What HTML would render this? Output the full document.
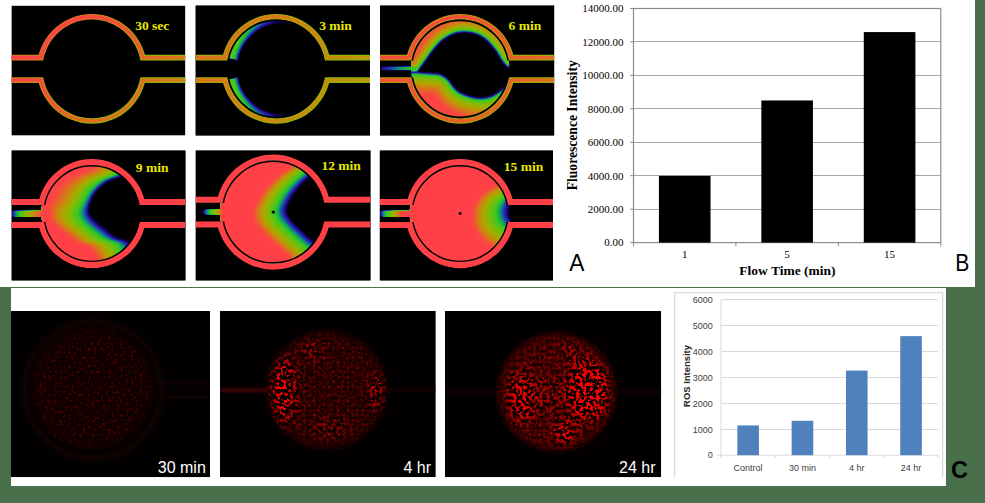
<!DOCTYPE html>
<html><head><meta charset="utf-8"><title>figure</title>
<style>html,body{margin:0;padding:0;width:985px;height:503px;overflow:hidden;background:#496f4b;font-family:"Liberation Sans",sans-serif}</style>
</head><body><svg width="985" height="503" viewBox="0 0 985 503" style="position:absolute;left:0;top:0"><defs><filter id="cmap" color-interpolation-filters="sRGB" x="0" y="0" width="1" height="1">
<feGaussianBlur stdDeviation="0.35"/>
<feComponentTransfer><feFuncR type="table" tableValues="0.000 0.098 0.157 0.039 0.216 0.373 0.529 0.647 0.765 0.882 1.000"/><feFuncG type="table" tableValues="0.000 0.020 0.176 0.627 0.784 0.765 0.725 0.675 0.569 0.424 0.251"/><feFuncB type="table" tableValues="0.000 0.431 0.745 0.412 0.137 0.078 0.020 0.000 0.039 0.137 0.282"/><feFuncA type="linear" slope="0" intercept="1"/></feComponentTransfer></filter><linearGradient id="w1" gradientUnits="userSpaceOnUse" x1="50" y1="20" x2="140" y2="120"><stop offset="0" stop-color="#ff4048"/><stop offset="0.4" stop-color="#f64d3d"/><stop offset="0.75" stop-color="#e16c23"/><stop offset="1" stop-color="#d57b19"/></linearGradient><linearGradient id="f1" gradientUnits="userSpaceOnUse" x1="50" y1="20" x2="140" y2="120"><stop offset="0" stop-color="#e16c23"/><stop offset="0.5" stop-color="#aba702"/><stop offset="1" stop-color="#87b905"/></linearGradient><clipPath id="pc1"><rect x="11.4" y="5.6" width="174.0" height="130.0"/></clipPath><clipPath id="ic1"><path d="M42.50,68.85a49.30,49.30 0 1,0 98.60,0a49.30,49.30 0 1,0 -98.60,0zM6.4,60.39999999999999V77.3H190.4V60.39999999999999z"/></clipPath><mask id="wm1" maskUnits="userSpaceOnUse" x="0" y="0" width="985" height="503"><path d="M36.90,68.85a54.90,54.90 0 1,0 109.80,0a54.90,54.90 0 1,0 -109.80,0zM6.4,54.79999999999999V82.89999999999999H190.4V54.79999999999999z" fill="#fff"/><path d="M42.50,68.85a49.30,49.30 0 1,0 98.60,0a49.30,49.30 0 1,0 -98.60,0zM6.4,60.39999999999999V77.3H190.4V60.39999999999999z" fill="#000"/></mask><mask id="we1" maskUnits="userSpaceOnUse" x="0" y="0" width="985" height="503"><path d="M38.00,68.85a53.80,53.80 0 1,0 107.60,0a53.80,53.80 0 1,0 -107.60,0zM6.4,55.89999999999999V81.8H190.4V55.89999999999999z" fill="#fff"/><path d="M41.40,68.85a50.40,50.40 0 1,0 100.80,0a50.40,50.40 0 1,0 -100.80,0zM6.4,59.29999999999999V78.39999999999999H190.4V59.29999999999999z" fill="#000"/></mask><filter id="bl0_5" color-interpolation-filters="sRGB" x="-50%" y="-50%" width="200%" height="200%"><feGaussianBlur stdDeviation="0.5"/></filter><linearGradient id="w2" gradientUnits="userSpaceOnUse" x1="200" y1="20" x2="360" y2="110"><stop offset="0" stop-color="#e16c23"/><stop offset="0.5" stop-color="#cf8214"/><stop offset="1" stop-color="#bd9708"/></linearGradient><linearGradient id="f2" gradientUnits="userSpaceOnUse" x1="200" y1="20" x2="360" y2="110"><stop offset="0" stop-color="#b49f05"/><stop offset="0.5" stop-color="#9faf01"/><stop offset="1" stop-color="#7fbb08"/></linearGradient><radialGradient id="c2" gradientUnits="userSpaceOnUse" cx="246.10000000000002" cy="68.85" r="60"><stop offset="0" stop-color="#808080"/><stop offset="0.5" stop-color="#737373"/><stop offset="0.8" stop-color="#4c4c4c"/><stop offset="1" stop-color="#1f1f1f"/></radialGradient><polygon id="hpm2" points="327.1,68.8 326.9,73.6 326.1,78.3 324.9,82.9 323.2,87.4 321.1,91.6 318.5,95.6 315.5,99.3 312.2,102.7 308.6,105.7 304.6,108.3 300.4,110.4 296.0,112.1 291.5,113.4 286.8,114.1 282.1,114.3 277.4,114.1 272.7,113.4 268.2,112.1 263.8,110.4 259.6,108.3 255.6,105.7 252.0,102.7 248.7,99.3 245.7,95.6 243.1,91.6 241.0,87.4 239.3,82.9 238.1,78.3 237.3,73.6 237.1,68.9 237.3,64.1 238.1,59.4 239.3,54.8 241.0,50.3 243.1,46.1 245.7,42.1 248.7,38.4 252.0,35.0 255.6,32.0 259.6,29.4 263.8,27.3 268.2,25.6 272.7,24.3 277.4,23.6 282.1,23.3 286.8,23.6 291.5,24.3 296.0,25.6 300.4,27.3 304.6,29.4 308.6,32.0 312.2,35.0 315.5,38.4 318.5,42.1 321.1,46.1 323.2,50.3 324.9,54.8 326.1,59.4 326.9,64.1" stroke-linejoin="round"/><filter id="bl0_6" color-interpolation-filters="sRGB" x="-50%" y="-50%" width="200%" height="200%"><feGaussianBlur stdDeviation="0.6"/></filter><mask id="m2" maskUnits="userSpaceOnUse" x="0" y="0" width="985" height="503"><rect x="0" y="0" width="985" height="503" fill="#fff"/><g filter="url(#bl0_6)"><use href="#hpm2" fill="#f1f1f1" stroke="#f1f1f1" stroke-width="12.00"/><use href="#hpm2" fill="#d5d5d5" stroke="#d5d5d5" stroke-width="10.00"/><use href="#hpm2" fill="#b8b8b8" stroke="#b8b8b8" stroke-width="8.00"/><use href="#hpm2" fill="#989898" stroke="#989898" stroke-width="6.00"/><use href="#hpm2" fill="#767676" stroke="#767676" stroke-width="4.00"/><use href="#hpm2" fill="#4f4f4f" stroke="#4f4f4f" stroke-width="2.00"/><use href="#hpm2" fill="#000"/><ellipse cx="227.10000000000002" cy="68.85" rx="16" ry="10.5" fill="#000"/></g></mask><clipPath id="pc2"><rect x="195.6" y="5.6" width="174.4" height="130.0"/></clipPath><clipPath id="ic2"><path d="M226.80,68.85a49.30,49.30 0 1,0 98.60,0a49.30,49.30 0 1,0 -98.60,0zM190.6,60.39999999999999V77.3H375.0V60.39999999999999z"/></clipPath><mask id="wm2" maskUnits="userSpaceOnUse" x="0" y="0" width="985" height="503"><path d="M221.20,68.85a54.90,54.90 0 1,0 109.80,0a54.90,54.90 0 1,0 -109.80,0zM190.6,54.79999999999999V82.89999999999999H375.0V54.79999999999999z" fill="#fff"/><path d="M226.80,68.85a49.30,49.30 0 1,0 98.60,0a49.30,49.30 0 1,0 -98.60,0zM190.6,60.39999999999999V77.3H375.0V60.39999999999999z" fill="#000"/></mask><mask id="we2" maskUnits="userSpaceOnUse" x="0" y="0" width="985" height="503"><path d="M222.30,68.85a53.80,53.80 0 1,0 107.60,0a53.80,53.80 0 1,0 -107.60,0zM190.6,55.89999999999999V81.8H375.0V55.89999999999999z" fill="#fff"/><path d="M225.70,68.85a50.40,50.40 0 1,0 100.80,0a50.40,50.40 0 1,0 -100.80,0zM190.6,59.29999999999999V78.39999999999999H375.0V59.29999999999999z" fill="#000"/></mask><clipPath id="lc2"><rect x="195.6" y="5.6" width="174.4" height="54.79999999999999"/><rect x="195.6" y="77.3" width="174.4" height="58.3"/></clipPath><linearGradient id="w3" gradientUnits="userSpaceOnUse" x1="400" y1="20" x2="520" y2="120"><stop offset="0" stop-color="#f94941"/><stop offset="0.5" stop-color="#f05635"/><stop offset="1" stop-color="#e16c23"/></linearGradient><linearGradient id="f3" gradientUnits="userSpaceOnUse" x1="400" y1="20" x2="520" y2="120"><stop offset="0" stop-color="#c3910a"/><stop offset="0.5" stop-color="#b49f05"/><stop offset="1" stop-color="#9faf01"/></linearGradient><polygon id="hpm3u" points="417.9,70.6 418.8,69.4 419.9,67.8 421.3,65.8 422.9,63.7 424.4,61.6 425.8,59.7 427.1,57.9 428.4,56.0 429.7,54.1 431.0,52.3 432.4,50.5 433.8,48.7 435.3,46.9 436.8,45.2 438.4,43.5 440.0,41.8 441.8,40.2 443.7,38.8 445.8,37.4 448.0,36.1 450.3,34.9 452.7,33.8 455.1,32.9 457.6,32.3 460.2,31.9 462.9,31.7 465.7,31.8 468.4,32.0 471.1,32.3 473.5,32.8 475.7,33.4 477.8,34.2 479.8,35.1 481.7,36.2 483.6,37.5 485.4,38.8 487.2,40.3 489.0,42.1 490.7,43.9 492.4,45.9 493.9,47.8 495.4,49.7 496.8,51.6 498.0,53.5 499.2,55.5 500.3,57.4 501.3,59.2 502.3,60.7 503.3,62.0 504.3,63.3 505.2,64.3 506.1,65.3 506.8,66.0 507.3,66.6 520.0,70.0 560.0,72.0 560.0,130.0 380.0,130.0 380.0,72.0 417.9,72.0" stroke-linejoin="round"/><filter id="bl0_8" color-interpolation-filters="sRGB" x="-50%" y="-50%" width="200%" height="200%"><feGaussianBlur stdDeviation="0.8"/></filter><mask id="m3u" maskUnits="userSpaceOnUse" x="0" y="0" width="985" height="503"><rect x="0" y="0" width="985" height="503" fill="#fff"/><g filter="url(#bl0_8)"><use href="#hpm3u" fill="#fafafa" stroke="#fafafa" stroke-width="22.00"/><use href="#hpm3u" fill="#f1f1f1" stroke="#f1f1f1" stroke-width="20.17"/><use href="#hpm3u" fill="#e7e7e7" stroke="#e7e7e7" stroke-width="18.33"/><use href="#hpm3u" fill="#dddddd" stroke="#dddddd" stroke-width="16.50"/><use href="#hpm3u" fill="#d2d2d2" stroke="#d2d2d2" stroke-width="14.67"/><use href="#hpm3u" fill="#c6c6c6" stroke="#c6c6c6" stroke-width="12.83"/><use href="#hpm3u" fill="#b9b9b9" stroke="#b9b9b9" stroke-width="11.00"/><use href="#hpm3u" fill="#ababab" stroke="#ababab" stroke-width="9.17"/><use href="#hpm3u" fill="#9b9b9b" stroke="#9b9b9b" stroke-width="7.33"/><use href="#hpm3u" fill="#898989" stroke="#898989" stroke-width="5.50"/><use href="#hpm3u" fill="#737373" stroke="#737373" stroke-width="3.67"/><use href="#hpm3u" fill="#525252" stroke="#525252" stroke-width="1.83"/><use href="#hpm3u" fill="#000"/></g></mask><polygon id="hpm3l" points="417.9,72.6 419.2,72.7 421.1,72.9 423.2,73.0 425.5,73.2 427.8,73.4 429.8,73.6 431.6,73.7 433.3,73.8 435.0,73.9 436.6,74.0 438.2,74.2 439.7,74.6 441.1,75.1 442.5,75.8 443.8,76.5 445.1,77.3 446.4,78.3 447.7,79.5 449.0,80.9 450.3,82.6 451.5,84.4 452.8,86.3 454.2,88.0 455.6,89.5 457.1,90.8 458.6,91.9 460.2,92.9 461.9,93.8 463.7,94.6 465.6,95.4 467.7,96.1 470.0,96.8 472.4,97.4 474.9,97.9 477.3,98.2 479.5,98.4 481.6,98.4 483.7,98.2 485.7,98.0 487.7,97.5 489.6,97.0 491.4,96.4 493.3,95.6 495.2,94.5 497.1,93.3 498.8,92.2 500.2,91.2 501.3,90.5 512.0,80.0 560.0,70.0 560.0,0.0 380.0,0.0 380.0,72.6" stroke-linejoin="round"/><filter id="bl1_0" color-interpolation-filters="sRGB" x="-50%" y="-50%" width="200%" height="200%"><feGaussianBlur stdDeviation="1.0"/></filter><mask id="m3l" maskUnits="userSpaceOnUse" x="0" y="0" width="985" height="503"><rect x="0" y="0" width="985" height="503" fill="#fff"/><g filter="url(#bl1_0)"><use href="#hpm3l" fill="#fbfbfb" stroke="#fbfbfb" stroke-width="40.00"/><use href="#hpm3l" fill="#f3f3f3" stroke="#f3f3f3" stroke-width="37.14"/><use href="#hpm3l" fill="#ebebeb" stroke="#ebebeb" stroke-width="34.29"/><use href="#hpm3l" fill="#e2e2e2" stroke="#e2e2e2" stroke-width="31.43"/><use href="#hpm3l" fill="#d9d9d9" stroke="#d9d9d9" stroke-width="28.57"/><use href="#hpm3l" fill="#cfcfcf" stroke="#cfcfcf" stroke-width="25.71"/><use href="#hpm3l" fill="#c5c5c5" stroke="#c5c5c5" stroke-width="22.86"/><use href="#hpm3l" fill="#bababa" stroke="#bababa" stroke-width="20.00"/><use href="#hpm3l" fill="#aeaeae" stroke="#aeaeae" stroke-width="17.14"/><use href="#hpm3l" fill="#a1a1a1" stroke="#a1a1a1" stroke-width="14.29"/><use href="#hpm3l" fill="#939393" stroke="#939393" stroke-width="11.43"/><use href="#hpm3l" fill="#828282" stroke="#828282" stroke-width="8.57"/><use href="#hpm3l" fill="#6d6d6d" stroke="#6d6d6d" stroke-width="5.71"/><use href="#hpm3l" fill="#4f4f4f" stroke="#4f4f4f" stroke-width="2.86"/><use href="#hpm3l" fill="#000"/></g></mask><clipPath id="cu3"><rect x="370" y="0" width="200" height="72"/></clipPath><clipPath id="cl3"><rect x="370" y="72" width="200" height="100"/></clipPath><radialGradient id="r3" gradientUnits="userSpaceOnUse" cx="430.2" cy="113.85" r="100"><stop offset="0" stop-color="#ffffff"/><stop offset="0.6" stop-color="#f5f5f5"/><stop offset="1" stop-color="#ebebeb"/></radialGradient><linearGradient id="s3" gradientUnits="userSpaceOnUse" x1="381" y1="0" x2="418" y2="0"><stop offset="0" stop-color="#1f1f1f"/><stop offset="0.5" stop-color="#4c4c4c"/><stop offset="1" stop-color="#737373"/></linearGradient><clipPath id="pc3"><rect x="380.0" y="5.6" width="174.20000000000005" height="130.0"/></clipPath><clipPath id="ic3"><path d="M410.90,68.85a49.30,49.30 0 1,0 98.60,0a49.30,49.30 0 1,0 -98.60,0zM375.0,60.39999999999999V77.3H559.2V60.39999999999999z"/></clipPath><mask id="wm3" maskUnits="userSpaceOnUse" x="0" y="0" width="985" height="503"><path d="M405.30,68.85a54.90,54.90 0 1,0 109.80,0a54.90,54.90 0 1,0 -109.80,0zM375.0,54.79999999999999V82.89999999999999H559.2V54.79999999999999z" fill="#fff"/><path d="M410.90,68.85a49.30,49.30 0 1,0 98.60,0a49.30,49.30 0 1,0 -98.60,0zM375.0,60.39999999999999V77.3H559.2V60.39999999999999z" fill="#000"/></mask><mask id="we3" maskUnits="userSpaceOnUse" x="0" y="0" width="985" height="503"><path d="M406.40,68.85a53.80,53.80 0 1,0 107.60,0a53.80,53.80 0 1,0 -107.60,0zM375.0,55.89999999999999V81.8H559.2V55.89999999999999z" fill="#fff"/><path d="M409.80,68.85a50.40,50.40 0 1,0 100.80,0a50.40,50.40 0 1,0 -100.80,0zM375.0,59.29999999999999V78.39999999999999H559.2V59.29999999999999z" fill="#000"/></mask><clipPath id="lc3"><rect x="380.0" y="5.6" width="174.20000000000005" height="54.79999999999999"/><rect x="380.0" y="77.3" width="174.20000000000005" height="58.3"/></clipPath><polygon id="hpm4u" points="121.2,175.6 119.5,176.2 117.2,176.9 114.5,177.8 111.6,178.8 108.8,180.0 106.3,181.3 104.1,182.7 102.0,184.4 100.0,186.1 98.1,187.9 96.4,189.8 94.9,191.6 93.6,193.4 92.4,195.4 91.4,197.3 90.6,199.2 89.8,201.2 89.2,203.0 88.6,204.8 88.2,206.6 87.8,208.4 87.6,210.1 87.7,211.7 88.0,213.3 88.6,214.8 89.5,216.1 90.7,217.4 92.0,218.6 93.4,219.9 94.9,221.3 96.6,222.8 98.4,224.4 100.5,226.0 102.5,227.6 104.5,229.1 106.3,230.5 107.9,231.8 109.4,233.1 110.8,234.2 112.2,235.4 113.7,236.4 115.5,237.4 117.7,238.4 120.2,239.3 122.9,240.1 125.5,240.9 127.7,241.5 129.2,242.0 150.0,275.0 220.0,275.0 220.0,150.0 150.0,150.0" stroke-linejoin="round"/><filter id="bl1_4" color-interpolation-filters="sRGB" x="-50%" y="-50%" width="200%" height="200%"><feGaussianBlur stdDeviation="1.4"/></filter><mask id="m4u" maskUnits="userSpaceOnUse" x="0" y="0" width="985" height="503"><rect x="0" y="0" width="985" height="503" fill="#fff"/><g filter="url(#bl1_4)"><use href="#hpm4u" transform="translate(-44.00,0.00)" fill="#f8f8f8" stroke="#f8f8f8" stroke-width="14.00"/><use href="#hpm4u" transform="translate(-41.25,0.00)" fill="#e9e9e9" stroke="#e9e9e9" stroke-width="13.12"/><use href="#hpm4u" transform="translate(-38.50,0.00)" fill="#dbdbdb" stroke="#dbdbdb" stroke-width="12.25"/><use href="#hpm4u" transform="translate(-35.75,0.00)" fill="#cdcdcd" stroke="#cdcdcd" stroke-width="11.38"/><use href="#hpm4u" transform="translate(-33.00,0.00)" fill="#bebebe" stroke="#bebebe" stroke-width="10.50"/><use href="#hpm4u" transform="translate(-30.25,0.00)" fill="#b0b0b0" stroke="#b0b0b0" stroke-width="9.62"/><use href="#hpm4u" transform="translate(-27.50,0.00)" fill="#a2a2a2" stroke="#a2a2a2" stroke-width="8.75"/><use href="#hpm4u" transform="translate(-24.75,0.00)" fill="#939393" stroke="#939393" stroke-width="7.88"/><use href="#hpm4u" transform="translate(-22.00,0.00)" fill="#858585" stroke="#858585" stroke-width="7.00"/><use href="#hpm4u" transform="translate(-19.25,0.00)" fill="#777777" stroke="#777777" stroke-width="6.12"/><use href="#hpm4u" transform="translate(-16.50,0.00)" fill="#686868" stroke="#686868" stroke-width="5.25"/><use href="#hpm4u" transform="translate(-13.75,0.00)" fill="#5a5a5a" stroke="#5a5a5a" stroke-width="4.38"/><use href="#hpm4u" transform="translate(-11.00,0.00)" fill="#4c4c4c" stroke="#4c4c4c" stroke-width="3.50"/><use href="#hpm4u" transform="translate(-8.25,0.00)" fill="#3d3d3d" stroke="#3d3d3d" stroke-width="2.62"/><use href="#hpm4u" transform="translate(-5.50,0.00)" fill="#2f2f2f" stroke="#2f2f2f" stroke-width="1.75"/><use href="#hpm4u" transform="translate(-2.75,0.00)" fill="#212121" stroke="#212121" stroke-width="0.88"/><use href="#hpm4u" fill="#000"/></g></mask><polygon id="hpm4l" points="121.2,175.6 119.5,176.2 117.2,176.9 114.5,177.8 111.6,178.8 108.8,180.0 106.3,181.3 104.1,182.7 102.0,184.4 100.0,186.1 98.1,187.9 96.4,189.8 94.9,191.6 93.6,193.4 92.4,195.4 91.4,197.3 90.6,199.2 89.8,201.2 89.2,203.0 88.6,204.8 88.2,206.6 87.8,208.4 87.6,210.1 87.7,211.7 88.0,213.3 88.6,214.8 89.5,216.1 90.7,217.4 92.0,218.6 93.4,219.9 94.9,221.3 96.6,222.8 98.4,224.4 100.5,226.0 102.5,227.6 104.5,229.1 106.3,230.5 107.9,231.8 109.4,233.1 110.8,234.2 112.2,235.4 113.7,236.4 115.5,237.4 117.7,238.4 120.2,239.3 122.9,240.1 125.5,240.9 127.7,241.5 129.2,242.0 150.0,275.0 220.0,275.0 220.0,150.0 150.0,150.0" stroke-linejoin="round"/><mask id="m4l" maskUnits="userSpaceOnUse" x="0" y="0" width="985" height="503"><rect x="0" y="0" width="985" height="503" fill="#fff"/><g filter="url(#bl1_4)"><use href="#hpm4l" transform="translate(-36.00,0.00)" fill="#f7f7f7" stroke="#f7f7f7" stroke-width="10.00"/><use href="#hpm4l" transform="translate(-33.43,0.00)" fill="#e6e6e6" stroke="#e6e6e6" stroke-width="9.29"/><use href="#hpm4l" transform="translate(-30.86,0.00)" fill="#d6d6d6" stroke="#d6d6d6" stroke-width="8.57"/><use href="#hpm4l" transform="translate(-28.29,0.00)" fill="#c6c6c6" stroke="#c6c6c6" stroke-width="7.86"/><use href="#hpm4l" transform="translate(-25.71,0.00)" fill="#b5b5b5" stroke="#b5b5b5" stroke-width="7.14"/><use href="#hpm4l" transform="translate(-23.14,0.00)" fill="#a5a5a5" stroke="#a5a5a5" stroke-width="6.43"/><use href="#hpm4l" transform="translate(-20.57,0.00)" fill="#949494" stroke="#949494" stroke-width="5.71"/><use href="#hpm4l" transform="translate(-18.00,0.00)" fill="#848484" stroke="#848484" stroke-width="5.00"/><use href="#hpm4l" transform="translate(-15.43,0.00)" fill="#747474" stroke="#747474" stroke-width="4.29"/><use href="#hpm4l" transform="translate(-12.86,0.00)" fill="#636363" stroke="#636363" stroke-width="3.57"/><use href="#hpm4l" transform="translate(-10.29,0.00)" fill="#535353" stroke="#535353" stroke-width="2.86"/><use href="#hpm4l" transform="translate(-7.71,0.00)" fill="#424242" stroke="#424242" stroke-width="2.14"/><use href="#hpm4l" transform="translate(-5.14,0.00)" fill="#323232" stroke="#323232" stroke-width="1.43"/><use href="#hpm4l" transform="translate(-2.57,0.00)" fill="#222222" stroke="#222222" stroke-width="0.71"/><use href="#hpm4l" fill="#000"/></g></mask><clipPath id="cu4"><rect x="0" y="140" width="200" height="73.6"/></clipPath><clipPath id="cl4"><rect x="0" y="213.6" width="200" height="100"/></clipPath><linearGradient id="gv4" gradientUnits="userSpaceOnUse" x1="0" y1="199.6" x2="0" y2="223.6"><stop offset="0" stop-color="#fff"/><stop offset="1" stop-color="#000"/></linearGradient><mask id="mg4" maskUnits="userSpaceOnUse" x="0" y="0" width="985" height="503"><rect width="985" height="503" fill="url(#gv4)"/></mask><linearGradient id="s4" gradientUnits="userSpaceOnUse" x1="11.5" y1="0" x2="52" y2="0"><stop offset="0" stop-color="#1f1f1f"/><stop offset="0.12" stop-color="#4c4c4c"/><stop offset="0.28" stop-color="#808080"/><stop offset="0.45" stop-color="#b2b2b2"/><stop offset="0.65" stop-color="#ebebeb"/><stop offset="0.8" stop-color="#ffffff"/></linearGradient><clipPath id="pc4"><rect x="11.6" y="150.4" width="173.9" height="129.99999999999997"/></clipPath><clipPath id="ic4"><path d="M43.30,213.60a48.50,48.50 0 1,0 97.00,0a48.50,48.50 0 1,0 -97.00,0zM6.6,205.1V222.1H190.5V205.1z"/></clipPath><mask id="wm4" maskUnits="userSpaceOnUse" x="0" y="0" width="985" height="503"><path d="M37.30,213.60a54.50,54.50 0 1,0 109.00,0a54.50,54.50 0 1,0 -109.00,0zM6.6,199.1V228.1H190.5V199.1z" fill="#fff"/><path d="M43.30,213.60a48.50,48.50 0 1,0 97.00,0a48.50,48.50 0 1,0 -97.00,0zM6.6,205.1V222.1H190.5V205.1z" fill="#000"/></mask><clipPath id="lc4"><rect x="11.6" y="150.4" width="173.9" height="54.69999999999999"/><rect x="11.6" y="222.1" width="173.9" height="58.29999999999998"/></clipPath><polygon id="hpm5" points="309.0,176.7 307.1,178.5 304.3,181.1 301.3,184.1 298.6,187.0 296.4,189.8 294.2,192.6 292.3,195.5 290.6,198.5 289.0,201.6 287.4,204.8 286.3,208.0 286.0,211.0 286.6,213.7 287.9,216.3 289.7,218.8 291.8,221.4 294.3,224.2 297.1,227.1 300.2,230.0 303.2,232.8 306.3,235.7 309.7,238.7 312.6,241.3 314.7,243.1 360.0,285.0 400.0,285.0 400.0,140.0 360.0,140.0" stroke-linejoin="round"/><filter id="bl1_2" color-interpolation-filters="sRGB" x="-50%" y="-50%" width="200%" height="200%"><feGaussianBlur stdDeviation="1.2"/></filter><mask id="m5" maskUnits="userSpaceOnUse" x="0" y="0" width="985" height="503"><rect x="0" y="0" width="985" height="503" fill="#fff"/><g filter="url(#bl1_2)"><use href="#hpm5" transform="translate(-27.00,4.00)" fill="#f7f7f7" stroke="#f7f7f7" stroke-width="12.00"/><use href="#hpm5" transform="translate(-25.07,3.71)" fill="#e6e6e6" stroke="#e6e6e6" stroke-width="11.14"/><use href="#hpm5" transform="translate(-23.14,3.43)" fill="#d6d6d6" stroke="#d6d6d6" stroke-width="10.29"/><use href="#hpm5" transform="translate(-21.21,3.14)" fill="#c6c6c6" stroke="#c6c6c6" stroke-width="9.43"/><use href="#hpm5" transform="translate(-19.29,2.86)" fill="#b5b5b5" stroke="#b5b5b5" stroke-width="8.57"/><use href="#hpm5" transform="translate(-17.36,2.57)" fill="#a5a5a5" stroke="#a5a5a5" stroke-width="7.71"/><use href="#hpm5" transform="translate(-15.43,2.29)" fill="#949494" stroke="#949494" stroke-width="6.86"/><use href="#hpm5" transform="translate(-13.50,2.00)" fill="#848484" stroke="#848484" stroke-width="6.00"/><use href="#hpm5" transform="translate(-11.57,1.71)" fill="#747474" stroke="#747474" stroke-width="5.14"/><use href="#hpm5" transform="translate(-9.64,1.43)" fill="#636363" stroke="#636363" stroke-width="4.29"/><use href="#hpm5" transform="translate(-7.71,1.14)" fill="#535353" stroke="#535353" stroke-width="3.43"/><use href="#hpm5" transform="translate(-5.79,0.86)" fill="#424242" stroke="#424242" stroke-width="2.57"/><use href="#hpm5" transform="translate(-3.86,0.57)" fill="#323232" stroke="#323232" stroke-width="1.71"/><use href="#hpm5" transform="translate(-1.93,0.29)" fill="#222222" stroke="#222222" stroke-width="0.86"/><use href="#hpm5" fill="#000"/></g></mask><linearGradient id="s5" gradientUnits="userSpaceOnUse" x1="203" y1="0" x2="224" y2="0"><stop offset="0" stop-color="#1f1f1f"/><stop offset="0.2" stop-color="#4c4c4c"/><stop offset="0.45" stop-color="#808080"/><stop offset="0.65" stop-color="#b2b2b2"/><stop offset="0.85" stop-color="#ebebeb"/><stop offset="1" stop-color="#ffffff"/></linearGradient><clipPath id="pc5"><rect x="195.7" y="150.4" width="174.8" height="129.99999999999997"/></clipPath><clipPath id="ic5"><path d="M221.80,212.10a51.50,51.50 0 1,0 103.00,0a51.50,51.50 0 1,0 -103.00,0zM190.7,202.79999999999998V221.4H375.5V202.79999999999998z"/></clipPath><mask id="wm5" maskUnits="userSpaceOnUse" x="0" y="0" width="985" height="503"><path d="M215.80,212.10a57.50,57.50 0 1,0 115.00,0a57.50,57.50 0 1,0 -115.00,0zM190.7,196.79999999999998V227.4H375.5V196.79999999999998z" fill="#fff"/><path d="M221.80,212.10a51.50,51.50 0 1,0 103.00,0a51.50,51.50 0 1,0 -103.00,0zM190.7,202.79999999999998V221.4H375.5V202.79999999999998z" fill="#000"/></mask><clipPath id="lc5"><rect x="195.7" y="150.4" width="174.8" height="52.39999999999998"/><rect x="195.7" y="221.4" width="174.8" height="58.999999999999986"/></clipPath><filter id="bl1_8" color-interpolation-filters="sRGB" x="-50%" y="-50%" width="200%" height="200%"><feGaussianBlur stdDeviation="1.8"/></filter><mask id="m6" maskUnits="userSpaceOnUse" x="0" y="0" width="985" height="503"><rect width="985" height="503" fill="#fff"/><g filter="url(#bl1_8)"><ellipse cx="512" cy="217.0" rx="40.0" ry="34.0" fill="#f7f7f7"/><ellipse cx="512" cy="216.6" rx="37.4" ry="32.2" fill="#e6e6e6"/><ellipse cx="512" cy="216.1" rx="34.9" ry="30.4" fill="#d6d6d6"/><ellipse cx="512" cy="215.7" rx="32.3" ry="28.6" fill="#c6c6c6"/><ellipse cx="512" cy="215.3" rx="29.7" ry="26.9" fill="#b5b5b5"/><ellipse cx="512" cy="214.9" rx="27.1" ry="25.1" fill="#a5a5a5"/><ellipse cx="512" cy="214.4" rx="24.6" ry="23.3" fill="#949494"/><ellipse cx="512" cy="214.0" rx="22.0" ry="21.5" fill="#848484"/><ellipse cx="512" cy="213.6" rx="19.4" ry="19.7" fill="#747474"/><ellipse cx="512" cy="213.1" rx="16.9" ry="17.9" fill="#636363"/><ellipse cx="512" cy="212.7" rx="14.3" ry="16.1" fill="#535353"/><ellipse cx="512" cy="212.3" rx="11.7" ry="14.4" fill="#424242"/><ellipse cx="512" cy="211.9" rx="9.1" ry="12.6" fill="#323232"/><ellipse cx="512" cy="211.4" rx="6.6" ry="10.8" fill="#222222"/><ellipse cx="512" cy="211" rx="4" ry="10" fill="#000"/></g></mask><linearGradient id="s6" gradientUnits="userSpaceOnUse" x1="380.0" y1="0" x2="412" y2="0"><stop offset="0" stop-color="#1f1f1f"/><stop offset="0.12" stop-color="#4c4c4c"/><stop offset="0.3" stop-color="#808080"/><stop offset="0.45" stop-color="#b2b2b2"/><stop offset="0.6" stop-color="#ebebeb"/><stop offset="0.7" stop-color="#ffffff"/></linearGradient><clipPath id="pc6"><rect x="379.8" y="150.4" width="173.2" height="129.99999999999997"/></clipPath><clipPath id="ic6"><path d="M411.60,213.60a48.50,48.50 0 1,0 97.00,0a48.50,48.50 0 1,0 -97.00,0zM374.8,205.1V222.1H558.0V205.1z"/></clipPath><mask id="wm6" maskUnits="userSpaceOnUse" x="0" y="0" width="985" height="503"><path d="M405.60,213.60a54.50,54.50 0 1,0 109.00,0a54.50,54.50 0 1,0 -109.00,0zM374.8,199.1V228.1H558.0V199.1z" fill="#fff"/><path d="M411.60,213.60a48.50,48.50 0 1,0 97.00,0a48.50,48.50 0 1,0 -97.00,0zM374.8,205.1V222.1H558.0V205.1z" fill="#000"/></mask><clipPath id="lc6"><rect x="379.8" y="150.4" width="173.2" height="54.69999999999999"/><rect x="379.8" y="222.1" width="173.2" height="58.29999999999998"/></clipPath><pattern id="grid" width="4.8" height="4.8" patternUnits="userSpaceOnUse"><rect x="0" y="0" width="4.8" height="4.8" fill="#200000"/><rect x="1.2" y="1.2" width="2.4" height="2.4" fill="#d01010"/></pattern><filter id="bl2" color-interpolation-filters="sRGB" x="-50%" y="-50%" width="200%" height="200%"><feGaussianBlur stdDeviation="2"/></filter><filter id="bl1" color-interpolation-filters="sRGB" x="-50%" y="-50%" width="200%" height="200%"><feGaussianBlur stdDeviation="1"/></filter><filter id="bl6" color-interpolation-filters="sRGB" x="-50%" y="-50%" width="200%" height="200%"><feGaussianBlur stdDeviation="6"/></filter><clipPath id="mc1"><rect x="11" y="311" width="199" height="166.2"/></clipPath><filter id="nz1" x="11" y="311" width="199" height="166.2" filterUnits="userSpaceOnUse" color-interpolation-filters="sRGB">
<feTurbulence type="fractalNoise" baseFrequency="0.35" numOctaves="2" seed="3" result="n"/>
<feColorMatrix in="n" type="matrix" values="7 0 0 0 -4.0  0 0 0 0 0  0 0 0 0 0  0 0 0 0 1"/>
<feGaussianBlur stdDeviation="0.5"/>
</filter><filter id="gz1" x="11" y="311" width="199" height="166.2" filterUnits="userSpaceOnUse" color-interpolation-filters="sRGB">
<feTurbulence type="fractalNoise" baseFrequency="0.45" numOctaves="1" seed="8" result="n"/>
<feColorMatrix in="n" type="matrix" values="3 0 0 0 -1.1  3 0 0 0 -1.1  3 0 0 0 -1.1  0 0 0 0 1"/>
</filter><radialGradient id="dg1" gradientUnits="userSpaceOnUse" cx="92.5" cy="389" r="66"><stop offset="0.75" stop-color="#fff"/><stop offset="1" stop-color="#000"/></radialGradient><mask id="dm1" maskUnits="userSpaceOnUse" x="0" y="0" width="985" height="503"><rect x="11" y="311" width="199" height="166.2" fill="url(#dg1)"/></mask><mask id="cm1" maskUnits="userSpaceOnUse" x="0" y="0" width="985" height="503"><rect width="985" height="503" fill="#3a3a3a"/></mask><mask id="gm1" maskUnits="userSpaceOnUse" x="0" y="0" width="985" height="503"><g mask="url(#gf1)"><rect x="11" y="311" width="199" height="166.2" filter="url(#gz1)"/></g></mask><mask id="gf1" maskUnits="userSpaceOnUse" x="0" y="0" width="985" height="503"><rect width="985" height="503" fill="#2c2c2c"/></mask><linearGradient id="g2" gradientUnits="userSpaceOnUse" x1="266" y1="0" x2="388" y2="0"><stop offset="0" stop-color="#fff"/><stop offset="0.12" stop-color="#fff"/><stop offset="0.3" stop-color="#404040"/><stop offset="0.7" stop-color="#404040"/><stop offset="0.9" stop-color="#eee"/><stop offset="1" stop-color="#fff"/></linearGradient><clipPath id="mc2"><rect x="220" y="311" width="215.8" height="166.2"/></clipPath><filter id="nz2" x="220" y="311" width="215.8" height="166.2" filterUnits="userSpaceOnUse" color-interpolation-filters="sRGB">
<feTurbulence type="fractalNoise" baseFrequency="0.3" numOctaves="2" seed="11" result="n"/>
<feColorMatrix in="n" type="matrix" values="7 0 0 0 -3.3  0 0 0 0 0  0 0 0 0 0  0 0 0 0 1"/>
<feGaussianBlur stdDeviation="0.6"/>
</filter><filter id="gz2" x="220" y="311" width="215.8" height="166.2" filterUnits="userSpaceOnUse" color-interpolation-filters="sRGB">
<feTurbulence type="fractalNoise" baseFrequency="0.45" numOctaves="1" seed="16" result="n"/>
<feColorMatrix in="n" type="matrix" values="3 0 0 0 -1.1  3 0 0 0 -1.1  3 0 0 0 -1.1  0 0 0 0 1"/>
</filter><radialGradient id="dg2" gradientUnits="userSpaceOnUse" cx="326.6" cy="390" r="64"><stop offset="0.75" stop-color="#fff"/><stop offset="1" stop-color="#000"/></radialGradient><mask id="dm2" maskUnits="userSpaceOnUse" x="0" y="0" width="985" height="503"><rect x="220" y="311" width="215.8" height="166.2" fill="url(#dg2)"/></mask><mask id="cm2" maskUnits="userSpaceOnUse" x="0" y="0" width="985" height="503"><rect width="985" height="503" fill="#2c2c2c"/><g filter="url(#bl6)"><ellipse cx="281" cy="392" rx="15" ry="40" fill="#fff"/><ellipse cx="312" cy="350" rx="12" ry="10" fill="#aaa"/><ellipse cx="381" cy="392" rx="9" ry="20" fill="#fff"/><ellipse cx="330" cy="428" rx="20" ry="10" fill="#777"/></g></mask><mask id="gm2" maskUnits="userSpaceOnUse" x="0" y="0" width="985" height="503"><g mask="url(#gf2)"><rect x="220" y="311" width="215.8" height="166.2" filter="url(#gz2)"/></g></mask><mask id="gf2" maskUnits="userSpaceOnUse" x="0" y="0" width="985" height="503"><rect width="985" height="503" fill="#808080"/></mask><radialGradient id="g3" cx="585" cy="388" r="80" gradientUnits="userSpaceOnUse"><stop offset="0" stop-color="#fff"/><stop offset="0.5" stop-color="#ccc"/><stop offset="1" stop-color="#444"/></radialGradient><clipPath id="mc3"><rect x="445" y="311" width="216.20000000000005" height="166.2"/></clipPath><filter id="nz3" x="445" y="311" width="216.20000000000005" height="166.2" filterUnits="userSpaceOnUse" color-interpolation-filters="sRGB">
<feTurbulence type="fractalNoise" baseFrequency="0.3" numOctaves="2" seed="23" result="n"/>
<feColorMatrix in="n" type="matrix" values="7 0 0 0 -3.1  0 0 0 0 0  0 0 0 0 0  0 0 0 0 1"/>
<feGaussianBlur stdDeviation="0.6"/>
</filter><filter id="gz3" x="445" y="311" width="216.20000000000005" height="166.2" filterUnits="userSpaceOnUse" color-interpolation-filters="sRGB">
<feTurbulence type="fractalNoise" baseFrequency="0.45" numOctaves="1" seed="28" result="n"/>
<feColorMatrix in="n" type="matrix" values="3 0 0 0 -1.1  3 0 0 0 -1.1  3 0 0 0 -1.1  0 0 0 0 1"/>
</filter><radialGradient id="dg3" gradientUnits="userSpaceOnUse" cx="556.7" cy="392" r="63.8"><stop offset="0.75" stop-color="#fff"/><stop offset="1" stop-color="#000"/></radialGradient><mask id="dm3" maskUnits="userSpaceOnUse" x="0" y="0" width="985" height="503"><rect x="445" y="311" width="216.20000000000005" height="166.2" fill="url(#dg3)"/></mask><mask id="cm3" maskUnits="userSpaceOnUse" x="0" y="0" width="985" height="503"><rect width="985" height="503" fill="#404040"/><g filter="url(#bl6)"><ellipse cx="588" cy="390" rx="22" ry="32" fill="#fff"/><ellipse cx="522" cy="398" rx="14" ry="26" fill="#eee"/><ellipse cx="565" cy="432" rx="12" ry="14" fill="#ddd"/><ellipse cx="572" cy="352" rx="12" ry="10" fill="#999"/><ellipse cx="550" cy="395" rx="12" ry="20" fill="#888"/></g></mask><mask id="gm3" maskUnits="userSpaceOnUse" x="0" y="0" width="985" height="503"><g mask="url(#gf3)"><rect x="445" y="311" width="216.20000000000005" height="166.2" filter="url(#gz3)"/></g></mask><mask id="gf3" maskUnits="userSpaceOnUse" x="0" y="0" width="985" height="503"><rect width="985" height="503" fill="#808080"/></mask></defs><rect width="985" height="503" fill="#496f4b"/><rect x="0" y="0" width="975" height="287" fill="#fff"/><rect x="11" y="288" width="935" height="198" fill="#fff"/><g clip-path="url(#pc1)"><rect x="11.4" y="5.6" width="174.0" height="130.0" fill="#000"/><rect x="11.4" y="5.6" width="174.0" height="130.0" fill="url(#f1)" mask="url(#wm1)"/><g filter="url(#bl0_5)"><rect x="11.4" y="5.6" width="174.0" height="130.0" fill="url(#w1)" mask="url(#we1)"/></g></g><text x="135.2" y="29.7" font-family="Liberation Serif" font-weight="bold" font-size="13.5" fill="#e8e800">30 sec</text><g clip-path="url(#pc2)"><rect x="195.6" y="5.6" width="174.4" height="130.0" fill="#000"/><g filter="url(#cmap)"><rect x="195.6" y="5.6" width="174.4" height="130.0" fill="#000"/><g clip-path="url(#ic2)"><g mask="url(#m2)"><circle cx="276.1" cy="68.85" r="49.3" fill="url(#c2)"/></g></g></g><rect x="195.6" y="5.6" width="174.4" height="130.0" fill="url(#f2)" mask="url(#wm2)"/><g filter="url(#bl0_5)"><rect x="195.6" y="5.6" width="174.4" height="130.0" fill="url(#w2)" mask="url(#we2)"/></g><circle clip-path="url(#lc2)" cx="276.1" cy="68.85" r="48.5" fill="none" stroke="#000" stroke-width="1.6"/></g><text x="319.2" y="29.7" font-family="Liberation Serif" font-weight="bold" font-size="13.5" fill="#e8e800">3 min</text><g clip-path="url(#pc3)"><rect x="380.0" y="5.6" width="174.20000000000005" height="130.0" fill="#000"/><g filter="url(#cmap)"><rect x="380.0" y="5.6" width="174.20000000000005" height="130.0" fill="#000"/><g clip-path="url(#ic3)"><g clip-path="url(#cu3)"><g mask="url(#m3u)"><circle cx="460.2" cy="68.85" r="49.3" fill="url(#r3)"/></g></g><g clip-path="url(#cl3)"><g mask="url(#m3l)"><circle cx="460.2" cy="68.85" r="49.3" fill="url(#r3)"/></g></g><path d="M382.9,66.39999999999999H418V70.2H382.9a1.9,1.9 0 0,1 0,-3.8z" fill="url(#s3)"/></g></g><rect x="380.0" y="5.6" width="174.20000000000005" height="130.0" fill="url(#f3)" mask="url(#wm3)"/><g filter="url(#bl0_5)"><rect x="380.0" y="5.6" width="174.20000000000005" height="130.0" fill="url(#w3)" mask="url(#we3)"/></g><circle clip-path="url(#lc3)" cx="460.2" cy="68.85" r="48.5" fill="none" stroke="#000" stroke-width="1.6"/></g><text x="508.6" y="29.7" font-family="Liberation Serif" font-weight="bold" font-size="13.5" fill="#e8e800">6 min</text><g clip-path="url(#pc4)"><rect x="11.6" y="150.4" width="173.9" height="129.99999999999997" fill="#000"/><g filter="url(#cmap)"><rect x="11.6" y="150.4" width="173.9" height="129.99999999999997" fill="#000"/><g clip-path="url(#ic4)"><g mask="url(#m4l)"><circle cx="91.8" cy="213.6" r="50.5" fill="#fff"/></g><g mask="url(#mg4)"><g mask="url(#m4u)"><circle cx="91.8" cy="213.6" r="50.5" fill="#fff"/></g></g><path d="M14.7,210.60000000000002H52V217.0H14.7a3.2,3.2 0 0,1 0,-6.4z" fill="url(#s4)"/></g></g><rect x="11.6" y="150.4" width="173.9" height="129.99999999999997" fill="#ff4046" mask="url(#wm4)"/><circle clip-path="url(#lc4)" cx="91.8" cy="213.6" r="47.8" fill="none" stroke="#000" stroke-width="1.4"/></g><text x="135.8" y="172.2" font-family="Liberation Serif" font-weight="bold" font-size="13.5" fill="#e8e800">9 min</text><g clip-path="url(#pc5)"><rect x="195.7" y="150.4" width="174.8" height="129.99999999999997" fill="#000"/><g filter="url(#cmap)"><rect x="195.7" y="150.4" width="174.8" height="129.99999999999997" fill="#000"/><g clip-path="url(#ic5)"><g mask="url(#m5)"><circle cx="273.3" cy="212.1" r="53.5" fill="#fff"/></g><path d="M205.8,209.2H224V214.8H205.8a2.8,2.8 0 0,1 0,-5.6z" fill="url(#s5)"/></g></g><rect x="195.7" y="150.4" width="174.8" height="129.99999999999997" fill="#ff4046" mask="url(#wm5)"/><circle clip-path="url(#lc5)" cx="273.3" cy="212.1" r="50.75" fill="none" stroke="#000" stroke-width="1.5"/><circle cx="273.3" cy="212.1" r="1.7" fill="#000"/></g><text x="321.4" y="169.8" font-family="Liberation Serif" font-weight="bold" font-size="13.5" fill="#e8e800">12 min</text><g clip-path="url(#pc6)"><rect x="379.8" y="150.4" width="173.2" height="129.99999999999997" fill="#000"/><g filter="url(#cmap)"><rect x="379.8" y="150.4" width="173.2" height="129.99999999999997" fill="#000"/><g clip-path="url(#ic6)"><g mask="url(#m6)"><circle cx="460.1" cy="213.6" r="50.5" fill="#fff"/></g><path d="M383.2,210.60000000000002H412V217.0H383.2a3.2,3.2 0 0,1 0,-6.4z" fill="url(#s6)"/></g></g><rect x="379.8" y="150.4" width="173.2" height="129.99999999999997" fill="#ff4046" mask="url(#wm6)"/><circle clip-path="url(#lc6)" cx="460.1" cy="213.6" r="47.8" fill="none" stroke="#000" stroke-width="1.4"/><circle cx="460.1" cy="213.6" r="1.5" fill="#000"/></g><text x="503.8" y="170.6" font-family="Liberation Serif" font-weight="bold" font-size="13.5" fill="#e8e800">15 min</text><g shape-rendering="crispEdges"><line x1="633.5" y1="41.9" x2="940.8" y2="41.9" stroke="#a6a6a6" stroke-width="1"/><line x1="633.5" y1="75.4" x2="940.8" y2="75.4" stroke="#a6a6a6" stroke-width="1"/><line x1="633.5" y1="108.8" x2="940.8" y2="108.8" stroke="#a6a6a6" stroke-width="1"/><line x1="633.5" y1="142.3" x2="940.8" y2="142.3" stroke="#a6a6a6" stroke-width="1"/><line x1="633.5" y1="175.7" x2="940.8" y2="175.7" stroke="#a6a6a6" stroke-width="1"/><line x1="633.5" y1="209.2" x2="940.8" y2="209.2" stroke="#a6a6a6" stroke-width="1"/></g><rect x="633.5" y="8.5" width="307.29999999999995" height="234.1" fill="none" stroke="#8c8c8c" stroke-width="1.2"/><line x1="630.2" y1="8.5" x2="633.5" y2="8.5" stroke="#8c8c8c" stroke-width="1"/><text x="623.6" y="12.3" text-anchor="end" font-family="Liberation Serif" font-size="11" fill="#000">14000.00</text><line x1="630.2" y1="41.9" x2="633.5" y2="41.9" stroke="#8c8c8c" stroke-width="1"/><text x="623.6" y="45.7" text-anchor="end" font-family="Liberation Serif" font-size="11" fill="#000">12000.00</text><line x1="630.2" y1="75.4" x2="633.5" y2="75.4" stroke="#8c8c8c" stroke-width="1"/><text x="623.6" y="79.2" text-anchor="end" font-family="Liberation Serif" font-size="11" fill="#000">10000.00</text><line x1="630.2" y1="108.8" x2="633.5" y2="108.8" stroke="#8c8c8c" stroke-width="1"/><text x="623.6" y="112.6" text-anchor="end" font-family="Liberation Serif" font-size="11" fill="#000">8000.00</text><line x1="630.2" y1="142.3" x2="633.5" y2="142.3" stroke="#8c8c8c" stroke-width="1"/><text x="623.6" y="146.1" text-anchor="end" font-family="Liberation Serif" font-size="11" fill="#000">6000.00</text><line x1="630.2" y1="175.7" x2="633.5" y2="175.7" stroke="#8c8c8c" stroke-width="1"/><text x="623.6" y="179.5" text-anchor="end" font-family="Liberation Serif" font-size="11" fill="#000">4000.00</text><line x1="630.2" y1="209.2" x2="633.5" y2="209.2" stroke="#8c8c8c" stroke-width="1"/><text x="623.6" y="213.0" text-anchor="end" font-family="Liberation Serif" font-size="11" fill="#000">2000.00</text><line x1="630.2" y1="242.6" x2="633.5" y2="242.6" stroke="#8c8c8c" stroke-width="1"/><text x="623.6" y="246.4" text-anchor="end" font-family="Liberation Serif" font-size="11" fill="#000">0.00</text><line x1="633.5" y1="242.6" x2="633.5" y2="246.2" stroke="#8c8c8c" stroke-width="1"/><line x1="735.9" y1="242.6" x2="735.9" y2="246.2" stroke="#8c8c8c" stroke-width="1"/><line x1="838.4" y1="242.6" x2="838.4" y2="246.2" stroke="#8c8c8c" stroke-width="1"/><line x1="940.8" y1="242.6" x2="940.8" y2="246.2" stroke="#8c8c8c" stroke-width="1"/><rect x="658.92" y="175.88" width="51.6" height="66.72" fill="#000"/><text x="684.7" y="258.3" text-anchor="middle" font-family="Liberation Serif" font-size="11" fill="#000">1</text><rect x="761.35" y="100.47" width="51.6" height="142.13" fill="#000"/><text x="787.1" y="258.3" text-anchor="middle" font-family="Liberation Serif" font-size="11" fill="#000">5</text><rect x="863.78" y="32.08" width="51.6" height="210.52" fill="#000"/><text x="889.6" y="258.3" text-anchor="middle" font-family="Liberation Serif" font-size="11" fill="#000">15</text><text x="787.4" y="274.8" text-anchor="middle" font-family="Liberation Serif" font-weight="bold" font-size="13.5" fill="#000">Flow Time (min)</text><text transform="translate(577.2,125.3) rotate(-90)" text-anchor="middle" font-family="Liberation Serif" font-weight="bold" font-size="13.6" fill="#000">Fluorescence Intensity</text><text transform="translate(569.3,270.8) scale(0.93,1)" font-family="Liberation Sans" font-size="24.5" fill="#000">A</text><text transform="translate(955.2,271.2) scale(0.9,1)" font-family="Liberation Sans" font-size="23.5" fill="#000">B</text><path d="M674.6,477V292.6H942.6V477" fill="none" stroke="#d9d9d9" stroke-width="1.3"/><g shape-rendering="crispEdges"><line x1="721" y1="299.9" x2="938.2" y2="299.9" stroke="#d9d9d9" stroke-width="1"/><line x1="721" y1="325.8" x2="938.2" y2="325.8" stroke="#d9d9d9" stroke-width="1"/><line x1="721" y1="351.7" x2="938.2" y2="351.7" stroke="#d9d9d9" stroke-width="1"/><line x1="721" y1="377.5" x2="938.2" y2="377.5" stroke="#d9d9d9" stroke-width="1"/><line x1="721" y1="403.4" x2="938.2" y2="403.4" stroke="#d9d9d9" stroke-width="1"/><line x1="721" y1="429.3" x2="938.2" y2="429.3" stroke="#d9d9d9" stroke-width="1"/></g><text x="712.8" y="303.1" text-anchor="end" font-family="Liberation Sans" font-size="9" fill="#404040">6000</text><text x="712.8" y="329.0" text-anchor="end" font-family="Liberation Sans" font-size="9" fill="#404040">5000</text><text x="712.8" y="354.9" text-anchor="end" font-family="Liberation Sans" font-size="9" fill="#404040">4000</text><text x="712.8" y="380.7" text-anchor="end" font-family="Liberation Sans" font-size="9" fill="#404040">3000</text><text x="712.8" y="406.6" text-anchor="end" font-family="Liberation Sans" font-size="9" fill="#404040">2000</text><text x="712.8" y="432.5" text-anchor="end" font-family="Liberation Sans" font-size="9" fill="#404040">1000</text><text x="712.8" y="458.4" text-anchor="end" font-family="Liberation Sans" font-size="9" fill="#404040">0</text><line x1="721" y1="299.9" x2="721" y2="457.7" stroke="#d9d9d9" stroke-width="1"/><line x1="717.5" y1="455.2" x2="938.2" y2="455.2" stroke="#d9d9d9" stroke-width="1"/><line x1="721.0" y1="455.2" x2="721.0" y2="458.0" stroke="#d9d9d9" stroke-width="1"/><line x1="775.3" y1="455.2" x2="775.3" y2="458.0" stroke="#d9d9d9" stroke-width="1"/><line x1="829.6" y1="455.2" x2="829.6" y2="458.0" stroke="#d9d9d9" stroke-width="1"/><line x1="883.9" y1="455.2" x2="883.9" y2="458.0" stroke="#d9d9d9" stroke-width="1"/><line x1="938.2" y1="455.2" x2="938.2" y2="458.0" stroke="#d9d9d9" stroke-width="1"/><rect x="737.35" y="425.43" width="21.6" height="29.77" fill="#4f81bd"/><text x="748.1" y="471" text-anchor="middle" font-family="Liberation Sans" font-size="9" fill="#404040">Control</text><rect x="791.65" y="420.78" width="21.6" height="34.42" fill="#4f81bd"/><text x="802.5" y="471" text-anchor="middle" font-family="Liberation Sans" font-size="9" fill="#404040">30 min</text><rect x="845.95" y="370.56" width="21.6" height="84.64" fill="#4f81bd"/><text x="856.8" y="471" text-anchor="middle" font-family="Liberation Sans" font-size="9" fill="#404040">4 hr</text><rect x="900.25" y="336.14" width="21.6" height="119.06" fill="#4f81bd"/><text x="911.1" y="471" text-anchor="middle" font-family="Liberation Sans" font-size="9" fill="#404040">24 hr</text><text transform="translate(689.6,376) rotate(-90)" text-anchor="middle" font-family="Liberation Sans" font-weight="bold" font-size="9.45" fill="#262626">ROS Intensity</text><text x="951" y="477.6" font-family="Liberation Sans" font-weight="bold" font-size="23.5" fill="#000">C</text><g clip-path="url(#mc1)"><rect x="11" y="311" width="199" height="166.2" fill="#020000"/><circle cx="93" cy="390" r="68" fill="none" stroke="#120303" stroke-width="6" filter="url(#bl2)"/><rect x="150" y="381.5" width="62" height="3" fill="#130303" filter="url(#bl1)"/><rect x="150" y="395.5" width="62" height="3" fill="#130303" filter="url(#bl1)"/><circle cx="92.5" cy="389" r="61" fill="#120000" filter="url(#bl2)"/><g mask="url(#dm1)"><g mask="url(#gm1)"><rect x="11" y="311" width="199" height="166.2" fill="url(#grid)"/></g><g mask="url(#cm1)"><rect x="11" y="311" width="199" height="166.2" filter="url(#nz1)"/></g></g></g><text x="205.8" y="473.2" text-anchor="end" font-family="Liberation Sans" font-size="16" fill="#fff">30 min</text><g clip-path="url(#mc2)"><rect x="220" y="311" width="215.8" height="166.2" fill="#020000"/><rect x="220" y="388" width="50" height="4.5" fill="#380303" filter="url(#bl1)"/><rect x="386" y="388.5" width="50" height="3" fill="#1a0202" filter="url(#bl1)"/><circle cx="326.6" cy="390" r="59" fill="#1a0000" filter="url(#bl2)"/><g mask="url(#dm2)"><g mask="url(#gm2)"><rect x="220" y="311" width="215.8" height="166.2" fill="url(#grid)"/></g><g mask="url(#cm2)"><rect x="220" y="311" width="215.8" height="166.2" filter="url(#nz2)"/></g></g></g><text x="431" y="473.2" text-anchor="end" font-family="Liberation Sans" font-size="16" fill="#fff">4 hr</text><g clip-path="url(#mc3)"><rect x="445" y="311" width="216.20000000000005" height="166.2" fill="#020000"/><rect x="445" y="390.5" width="55" height="3" fill="#160202" filter="url(#bl1)"/><rect x="612" y="390.5" width="50" height="3" fill="#160202" filter="url(#bl1)"/><circle cx="556.7" cy="392" r="58.8" fill="#2a0000" filter="url(#bl2)"/><g mask="url(#dm3)"><g mask="url(#gm3)"><rect x="445" y="311" width="216.20000000000005" height="166.2" fill="url(#grid)"/></g><g mask="url(#cm3)"><rect x="445" y="311" width="216.20000000000005" height="166.2" filter="url(#nz3)"/></g></g></g><text x="655.5" y="473.2" text-anchor="end" font-family="Liberation Sans" font-size="16" fill="#fff">24 hr</text></svg></body></html>
